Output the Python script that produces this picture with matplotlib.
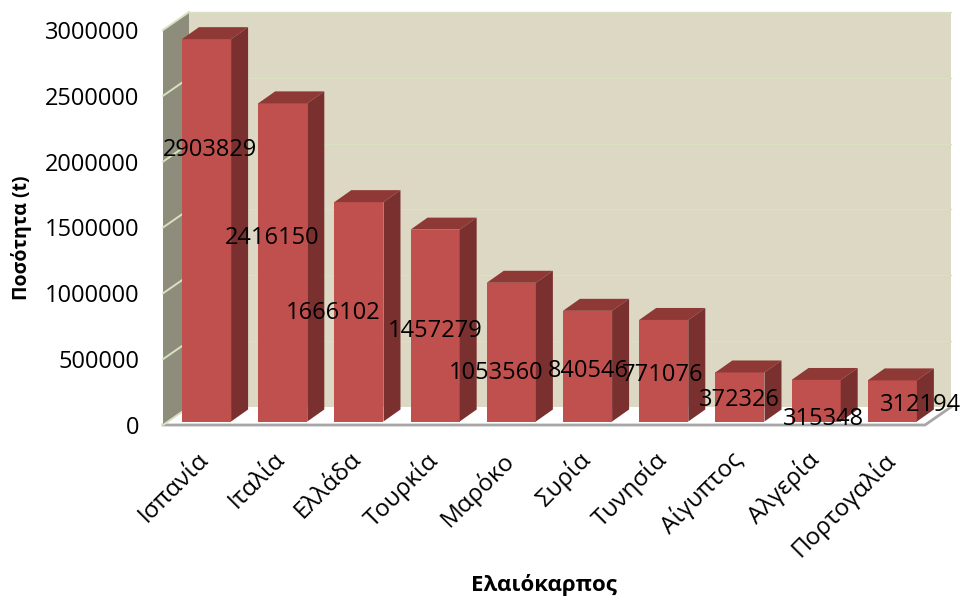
import matplotlib
matplotlib.use("Agg")
import matplotlib.pyplot as plt
from matplotlib.patches import Polygon
from matplotlib.transforms import ScaledTranslation

plt.rcParams['font.family'] = ['Open Sans', 'DejaVu Sans']

countries = ['Ισπανία', 'Ιταλία', 'Ελλάδα', 'Τουρκία', 'Μαρόκο',
             'Συρία', 'Τυνησία', 'Αίγυπτος', 'Αλγερία', 'Πορτογαλία']
quantities = [2903829, 2416150, 1666102, 1457279, 1053560,
              840546, 771076, 372326, 315348, 312194]
yticks = [0, 500000, 1000000, 1500000, 2000000, 2500000, 3000000]

# hand placed value labels, figure pixels from top left
label_px = [(210, 150), (272, 238), (333, 313), (435, 331), (496, 373),
            (588, 371), (663, 375), (739, 400), (823, 419), (920, 405)]

W, H = 963, 598
fig = plt.figure(figsize=(W / 100, H / 100), dpi=100, facecolor='white')
ax = fig.add_axes([163 / W, 1 - 425 / H, 762 / W, 395 / H])
ax.set_xlim(-0.571, 9.429)
ax.set_ylim(0, 3000000)
ax.patch.set_visible(False)
for s in ax.spines.values():
    s.set_visible(False)

# one pixel in data units, the fake 3d is all done with these
px_x = 10.0 / 762
px_y = 3000000 / 395.0

x0, x1 = ax.get_xlim()
wall_dx, wall_dy = 26 * px_x, 18 * px_y
grid_col = '#d8e2c0'


def poly(pts, fc, z, ec='none', lw=0):
    ax.add_patch(Polygon(pts, closed=True, fc=fc, ec=ec, lw=lw, zorder=z,
                         clip_on=False))


# back wall
poly([(x0 + wall_dx, wall_dy), (x1 + wall_dx, wall_dy),
      (x1 + wall_dx, 3000000 + wall_dy), (x0 + wall_dx, 3000000 + wall_dy)],
     '#ddd8c3', 1)
# floor
poly([(x0, 0), (x1, 0), (x1 + wall_dx, wall_dy), (x0 + wall_dx, wall_dy)],
     'white', 2)
ax.plot([x0, x1, x1 + wall_dx], [0, 0, wall_dy], color='#a6a6a6', lw=2,
        zorder=3, clip_on=False, solid_joinstyle='miter')
# left wall
poly([(x0, 0), (x0 + wall_dx, wall_dy), (x0 + wall_dx, 3000000 + wall_dy),
      (x0, 3000000)], '#8e8d7b', 3)

for v in yticks:
    ax.plot([x0 + wall_dx, x1 + wall_dx], [v + wall_dy, v + wall_dy],
            color=grid_col, lw=1.0, zorder=1.5, clip_on=False)
    ax.plot([x0, x0 + wall_dx], [v, v + wall_dy], color=grid_col, lw=1.4,
            zorder=3.5, clip_on=False)

# bars
bw = 0.645
lift = 3.5 * px_y
dx, dy = 17 * px_x, 12 * px_y
for i, q in enumerate(quantities):
    l, r = i - bw / 2, i + bw / 2
    b, t = lift, lift + q
    poly([(l, b), (r, b), (r, t), (l, t)], '#c0504d', 5)
    poly([(l, t), (r, t), (r + dx, t + dy), (l + dx, t + dy)], '#8f3936', 5)
    poly([(r, b), (r + dx, b + dy), (r + dx, t + dy), (r, t)], '#7b3030', 5)

for q, (px, py) in zip(quantities, label_px):
    fig.text(px / W, 1 - py / H, str(q), fontsize=17, color='black',
             ha='center', va='center', zorder=10)

ax.set_yticks(yticks)
ax.set_yticklabels([str(v) for v in yticks], fontsize=17)
ax.tick_params(axis='y', length=0, pad=17)
ax.set_xticks(range(len(countries)))
ax.set_xticklabels(countries, fontsize=17.5, rotation=45, ha='right',
                   rotation_mode='anchor')
ax.tick_params(axis='x', length=0, pad=16)
# the slanted names end a bit left of the bar centres
shift = ScaledTranslation(-10 / 100, 0, fig.dpi_scale_trans)
for lab in ax.get_xticklabels():
    lab.set_transform(lab.get_transform() + shift)

fig.text(22 / W, 1 - 238 / H, 'Ποσότητα (t)', fontsize=14, fontweight='bold',
         rotation=90, ha='center', va='center')
fig.text(544 / W, 1 - 585 / H, 'Ελαιόκαρπος', fontsize=16, fontweight='bold',
         ha='center', va='center')

fig.savefig('out.png', dpi=100)
